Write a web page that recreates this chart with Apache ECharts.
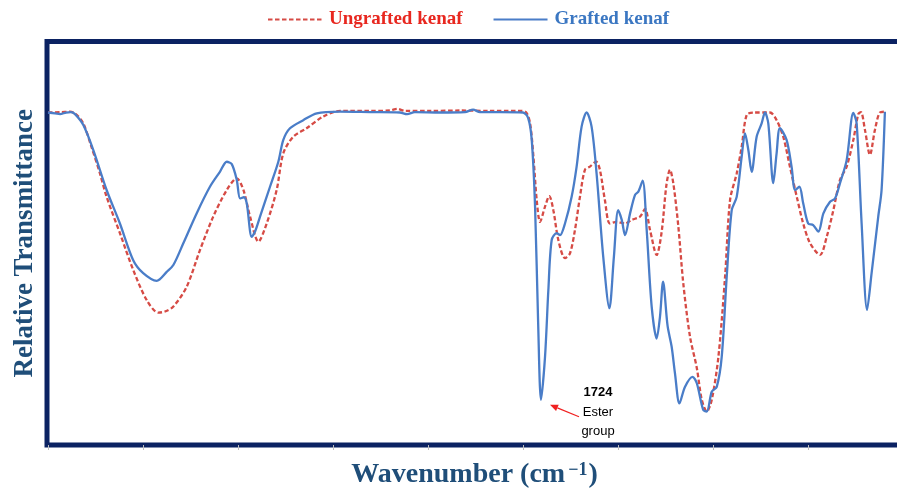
<!DOCTYPE html>
<html>
<head>
<meta charset="utf-8">
<script src="https://cdn.jsdelivr.net/npm/echarts@6/dist/echarts.min.js"></script>
<style>
html,body{margin:0;padding:0;background:#fff;}
#chart{width:897px;height:489px;}
</style>
</head>
<body>
<div id="chart"></div>
<script>
// ---- data (wavenumber in cm^-1, relative transmittance in arbitrary %) ----
const wavenumberTicks = [3800, 3400, 3000, 2600, 2200, 1800, 1400, 1000, 600, 200];
const seriesNames = ['Ungrafted kenaf', 'Grafted kenaf'];

const graftedWn = [3800,3770,3749,3724,3703,3686,3651,3609,3553,3497,3441,3399,3342,3300,3272,3230,3174,3118,3076,3047,3026,3005,2991,2975,2963,2942,2928,2907,2865,2830,2809,2781,2725,2668,2570,2444,2318,2288,2255,2149,2044,2010,1981,1897,1800,1778,1763,1749,1736,1724,1707,1693,1679,1658,1644,1623,1595,1574,1553,1532,1511,1490,1462,1436,1417,1399,1384,1370,1349,1328,1314,1296,1279,1258,1237,1223,1210,1191,1174,1160,1141,1118,1086,1068,1041,1026,1005,984,963,942,921,900,879,865,851,837,816,795,781,767,746,732,718,690,669,654,636,620,599,578,556,535,507,486,465,437,409,395,374,351,332,304,290,276];
const graftedT = [82.4,82.2,82.0,82.4,82.5,82.0,79.3,73.1,63.2,54.9,45.8,42.6,40.7,42.9,44.6,50.0,57.4,64.0,67.7,70.2,69.6,65.7,61.1,61.4,59.9,51.6,52.9,56.6,64.0,70.2,75.6,78.5,80.5,82.2,82.6,82.5,82.4,82.0,82.5,82.4,82.5,83.1,82.5,82.5,82.4,81.0,75.6,59.1,30.2,11.2,21.9,38.4,50.8,52.5,52.0,54.9,61.5,69.0,78.9,82.4,78.9,67.3,46.7,33.9,46.7,58.2,55.8,52.0,57.4,62.0,62.8,65.5,53.3,34.3,26.4,31.8,40.5,29.5,24.4,17.8,10.3,14.4,16.9,15.3,8.7,8.3,13.2,14.4,21.9,41.7,58.2,61.5,71.5,77.2,73.1,67.7,76.4,79.7,82.4,79.7,64.9,72.3,78.5,75.6,69.0,63.2,64.0,59.9,54.9,54.5,52.9,57.4,60.3,61.1,64.9,70.6,82.3,79.7,54.9,33.5,42.6,56.6,63.2,82.6];

const ungraftedWn = [3800,3749,3707,3679,3651,3619,3581,3553,3497,3441,3384,3335,3307,3272,3216,3160,3104,3047,3005,2977,2949,2914,2879,2837,2809,2767,2711,2641,2570,2444,2360,2330,2297,2191,2065,1939,1812,1787,1770,1756,1742,1728,1707,1689,1672,1651,1623,1602,1581,1560,1539,1518,1492,1476,1455,1434,1405,1370,1342,1307,1286,1265,1237,1216,1196,1181,1167,1146,1125,1097,1068,1047,1026,1005,977,949,928,900,879,858,830,760,732,704,676,647,620,591,549,521,493,465,437,409,388,377,360,339,318,297,276];
const ungraftedT = [82.4,82.5,82.6,81.8,79.7,74.3,67.3,61.5,52.5,43.4,35.9,32.8,33.1,34.3,39.2,48.3,56.6,63.2,66.1,63.2,56.6,50.4,54.9,63.2,72.3,76.4,78.5,81.4,82.8,82.8,82.9,83.3,82.8,82.8,82.9,82.8,82.8,82.5,79.7,71.5,60.7,55.3,59.1,61.7,58.2,50.8,46.3,47.5,53.3,61.5,68.2,69.0,70.2,68.2,60.7,54.9,55.3,54.9,55.8,56.6,58.5,53.3,47.1,52.8,64.4,68.2,64.9,54.3,40.1,27.0,19.1,11.2,8.3,11.2,21.9,41.7,60.7,67.3,73.9,81.8,82.4,82.4,80.5,76.4,69.0,61.5,54.9,50.0,47.1,51.6,58.2,65.7,69.0,75.6,82.0,82.5,78.1,71.9,78.1,82.4,82.6];

const esterPeakWn = 1724;
const annotationLines = ['1724', 'Ester', 'group'];

// ---- build ----
const pairs = (xs, ys) => xs.map((x, i) => [x, ys[i]]);
const grafted = pairs(graftedWn, graftedT);
const ungrafted = pairs(ungraftedWn, ungraftedT);

const RED = '#D64B45';
const BLUE = '#4A7DC8';
const NAVY = '#0B2262';
const TITLE = '#1F4E79';
const SERIF = "'Liberation Serif', 'Times New Roman', serif";

const chart = echarts.init(document.getElementById('chart'), null, {renderer: 'canvas'});
chart.setOption({
  backgroundColor: '#ffffff',
  animation: false,
  legend: {
    left: 262, top: 5,
    itemWidth: 54, itemHeight: 14, itemGap: 30,
    itemStyle: {opacity: 0},
    textStyle: {fontFamily: SERIF, fontWeight: 'bold', fontSize: 19, padding: [0, 0, 0, 2]},
    data: [
      {name: seriesNames[0], textStyle: {color: '#E8271F'}},
      {name: seriesNames[1], textStyle: {color: '#3B77C2'}}
    ]
  },
  grid: {
    left: 47, right: -5, top: 41.5, bottom: 44,
    outerBoundsMode: 'none', containLabel: false,
    show: true, borderColor: NAVY, borderWidth: 5, backgroundColor: '#fff'
  },
  xAxis: {
    type: 'value', inverse: true, min: 204, max: 3804,
    offset: 2,
    axisLine: {show: false},
    axisTick: {show: true, length: 5, customValues: wavenumberTicks, lineStyle: {color: '#BFBFBF', width: 1}},
    axisLabel: {show: false},
    splitLine: {show: false},
    name: '{t|Wavenumber (cm}{s|−1}{t|)}',
    nameLocation: 'middle', nameGap: 14,
    nameTextStyle: {
      rich: {
        t: {fontFamily: SERIF, fontWeight: 'bold', fontSize: 28, color: TITLE, verticalAlign: 'bottom'},
        s: {fontFamily: SERIF, fontWeight: 'bold', fontSize: 18, color: TITLE, verticalAlign: 'top', padding: [0, 1, 0, 3]}
      }
    }
  },
  yAxis: {
    type: 'value', min: 0, max: 100,
    axisLine: {show: false}, axisTick: {show: false}, axisLabel: {show: false}, splitLine: {show: false},
    name: 'Relative Transmittance', nameLocation: 'middle', nameGap: 8,
    nameTextStyle: {fontFamily: SERIF, fontWeight: 'bold', fontSize: 27, color: TITLE}
  },
  series: [
    {
      name: seriesNames[0], type: 'line', data: ungrafted, symbol: 'none', smooth: 0.3,
      lineStyle: {color: RED, width: 2.3, type: [4.5, 2.5]}, itemStyle: {color: RED}, z: 2
    },
    {
      name: seriesNames[1], type: 'line', data: grafted, symbol: 'none', smooth: 0.3,
      lineStyle: {color: BLUE, width: 2.3}, itemStyle: {color: BLUE}, z: 3
    }
  ]
});

// annotation anchored to the ester peak of the grafted series
const peakIdx = graftedWn.indexOf(esterPeakWn);
const p = chart.convertToPixel({gridIndex: 0}, [esterPeakWn, graftedT[peakIdx]]);
const tip = [p[0] + 9, p[1] + 5];
const tail = [p[0] + 38, p[1] + 17];
const dx = tip[0] - tail[0], dy = tip[1] - tail[1];
const len = Math.sqrt(dx * dx + dy * dy);
const ux = dx / len, uy = dy / len;
const hl = 8, hw = 3.5;
const bx = tip[0] - ux * hl, by = tip[1] - uy * hl;
const nx = -uy, ny = ux;
const textStyle = (txt, bold) => ({
  text: txt, fill: '#000', align: 'center', verticalAlign: 'middle',
  font: (bold ? 'bold ' : '') + '13px "Liberation Sans", Arial, sans-serif'
});
chart.setOption({
  graphic: [
    {type: 'text', x: p[0] + 57, y: p[1] - 7, style: textStyle(annotationLines[0], true), z: 10},
    {type: 'text', x: p[0] + 57, y: p[1] + 13, style: textStyle(annotationLines[1], false), z: 10},
    {type: 'text', x: p[0] + 57, y: p[1] + 32, style: textStyle(annotationLines[2], false), z: 10},
    {type: 'line', shape: {x1: tail[0], y1: tail[1], x2: bx, y2: by}, style: {stroke: '#F02020', lineWidth: 1.2}, z: 10},
    {type: 'polygon', shape: {points: [tip, [bx + nx * hw, by + ny * hw], [bx - nx * hw, by - ny * hw]]}, style: {fill: '#F02020'}, z: 10}
  ]
});
</script>
</body>
</html>
